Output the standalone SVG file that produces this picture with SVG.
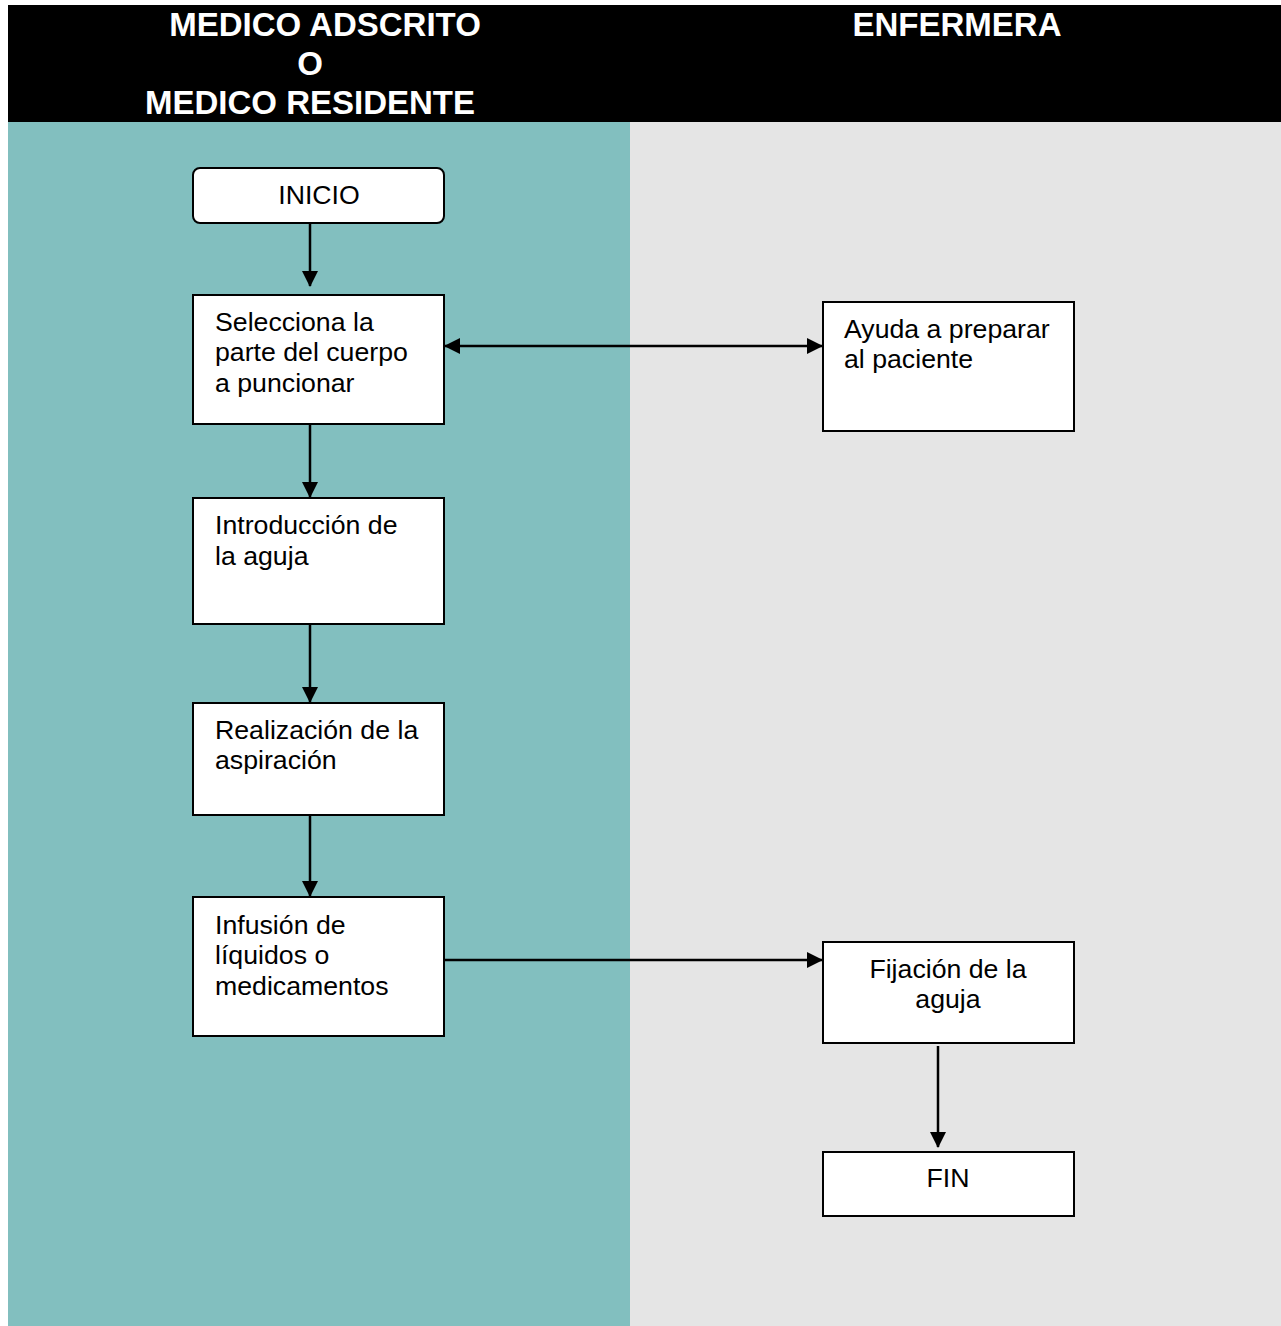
<svg xmlns="http://www.w3.org/2000/svg" width="1281" height="1326" viewBox="0 0 1281 1326">
<defs>
<style>
.hdr{font-family:"Liberation Sans",Arial,sans-serif;font-weight:bold;font-size:33px;fill:#fff;text-anchor:middle}
.box{fill:#fff;stroke:#000;stroke-width:2}
.t{font-family:"Liberation Sans",Arial,sans-serif;font-size:26.7px;fill:#000}
.c{text-anchor:middle}
.ln{stroke:#000;stroke-width:2.5;fill:none}
</style>
<marker id="ah" markerWidth="16" markerHeight="16" refX="15" refY="8" orient="auto-start-reverse" markerUnits="userSpaceOnUse">
<path d="M0,0 L16,8 L0,16 Z" fill="#000"/>
</marker>
</defs>
<rect x="0" y="0" width="1281" height="1326" fill="#fff"/>
<rect x="8" y="122" width="622" height="1204" fill="#82BFBF"/>
<rect x="630" y="122" width="651" height="1204" fill="#E5E5E5"/>
<rect x="8" y="5" width="1273" height="117" fill="#000"/>
<g id="lane-headers">
<text class="hdr" x="325" y="36">MEDICO ADSCRITO</text>
<text class="hdr" x="310" y="75">O</text>
<text class="hdr" x="310" y="114">MEDICO RESIDENTE</text>
<text class="hdr" x="957" y="36">ENFERMERA</text>
</g>
<g id="connectors">
<line class="ln" x1="310" y1="223" x2="310" y2="286" marker-end="url(#ah)"/>
<line class="ln" x1="445" y1="346" x2="822" y2="346" marker-start="url(#ah)" marker-end="url(#ah)"/>
<line class="ln" x1="310" y1="424" x2="310" y2="497" marker-end="url(#ah)"/>
<line class="ln" x1="310" y1="624" x2="310" y2="702" marker-end="url(#ah)"/>
<line class="ln" x1="310" y1="815" x2="310" y2="896" marker-end="url(#ah)"/>
<line class="ln" x1="444" y1="960" x2="822" y2="960" marker-end="url(#ah)"/>
<line class="ln" x1="938" y1="1046" x2="938" y2="1147" marker-end="url(#ah)"/>
</g>
<g id="inicio">
<rect class="box" x="193" y="168" width="251" height="55" rx="7"/>
<text class="t c" x="319" y="204">INICIO</text>
</g>
<g id="selecciona">
<rect class="box" x="193" y="295" width="251" height="129"/>
<text class="t" x="215" y="331">Selecciona la</text>
<text class="t" x="215" y="361">parte del cuerpo</text>
<text class="t" x="215" y="392">a puncionar</text>
</g>
<g id="ayuda">
<rect class="box" x="823" y="302" width="251" height="129"/>
<text class="t" x="844" y="338">Ayuda a preparar</text>
<text class="t" x="844" y="368">al paciente</text>
</g>
<g id="introduccion">
<rect class="box" x="193" y="498" width="251" height="126"/>
<text class="t" x="215" y="534">Introducción de</text>
<text class="t" x="215" y="565">la aguja</text>
</g>
<g id="realizacion">
<rect class="box" x="193" y="703" width="251" height="112"/>
<text class="t" x="215" y="739">Realización de la</text>
<text class="t" x="215" y="769">aspiración</text>
</g>
<g id="infusion">
<rect class="box" x="193" y="897" width="251" height="139"/>
<text class="t" x="215" y="934">Infusión de</text>
<text class="t" x="215" y="964">líquidos o</text>
<text class="t" x="215" y="995">medicamentos</text>
</g>
<g id="fijacion">
<rect class="box" x="823" y="942" width="251" height="101"/>
<text class="t c" x="948" y="978">Fijación de la</text>
<text class="t c" x="948" y="1008">aguja</text>
</g>
<g id="fin">
<rect class="box" x="823" y="1152" width="251" height="64"/>
<text class="t c" x="948" y="1187">FIN</text>
</g>
</svg>
